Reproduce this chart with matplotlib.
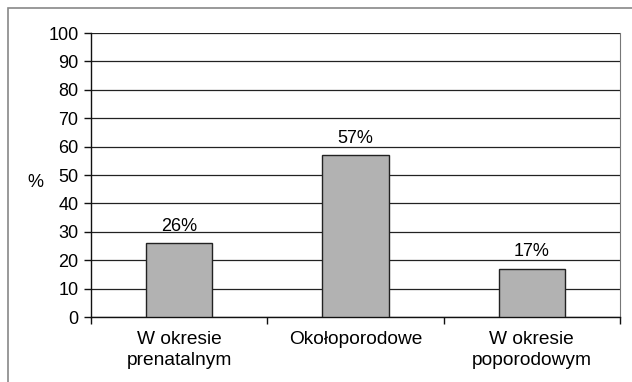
import matplotlib
matplotlib.use("Agg")
import matplotlib.pyplot as plt
from matplotlib.patches import Rectangle

plt.rcParams["font.family"] = ["Liberation Sans", "DejaVu Sans"]

categories = ["W okresie\nprenatalnym", "Okołoporodowe", "W okresie\npoporodowym"]
values = [26, 57, 17]
labels = ["26%", "57%", "17%"]
yticks = list(range(0, 101, 10))

FS = 13
W, H = 632, 382
fig = plt.figure(figsize=(W / 100, H / 100), dpi=100)
ax = fig.add_axes([91 / W, 1 - 317 / H, (620 - 91) / W, (317 - 33) / H])

# outer frame around the chart area
fig.patches.append(Rectangle((8 / W, -0.1), 1.2, 1 - 8 / H + 0.1,
                             transform=fig.transFigure, fill=False,
                             edgecolor="#888888", lw=1.2))

x = range(len(categories))
ax.bar(x, values, width=0.375, color="#b2b2b2", edgecolor="#222222",
       lw=1.0, zorder=3)
for xi, v, lab in zip(x, values, labels):
    ax.annotate(lab, (xi, v), xytext=(0, 6), textcoords="offset points",
                ha="center", va="bottom", fontsize=FS)

ax.set_xlim(-0.5, 2.5)
ax.set_ylim(0, 100)
ax.set_yticks(yticks)
ax.yaxis.grid(True, color="#222222", lw=0.9)
ax.set_axisbelow(True)

ax.set_xticks([-0.5, 0.5, 1.5, 2.5])
ax.set_xticklabels([])
ax.set_xticks(list(x), minor=True)
ax.set_xticklabels(categories, minor=True, fontsize=13.8, linespacing=1.35)
ax.tick_params(axis="x", which="minor", length=0, pad=10)
ax.tick_params(axis="x", which="major", length=5, width=1, direction="out",
               color="#111111")
ax.tick_params(axis="y", length=5, width=1, labelsize=FS, pad=4,
               color="#111111")

ax.set_ylabel("%", rotation=0, fontsize=FS, va="center", ha="center")
ax.yaxis.set_label_coords(-0.106, 0.475)

for s in ("left", "bottom"):
    ax.spines[s].set_color("#111111")
    ax.spines[s].set_linewidth(1.0)
ax.spines["top"].set_visible(False)
ax.spines["right"].set_color("#777777")

fig.savefig("out.png", dpi=100)
